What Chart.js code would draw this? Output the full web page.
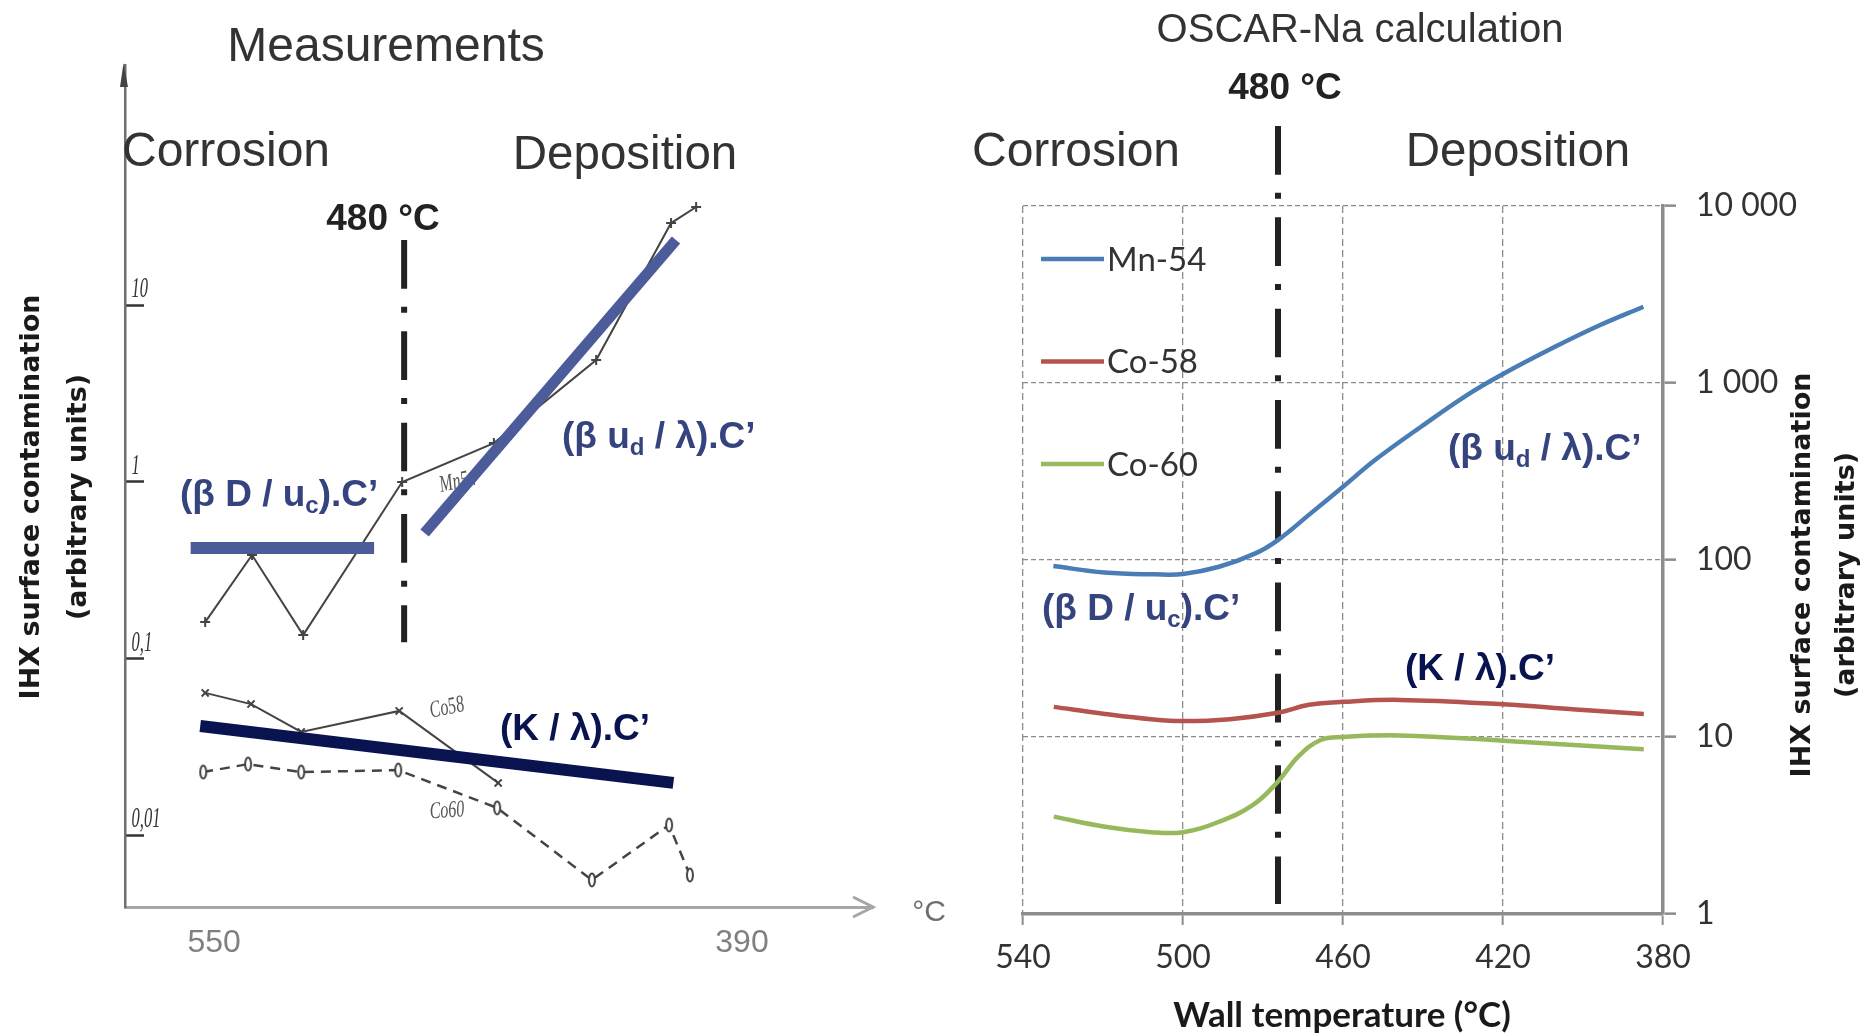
<!DOCTYPE html>
<html><head><meta charset="utf-8">
<script src="https://cdn.jsdelivr.net/npm/chart.js@4"></script>
<style>
html,body{margin:0;padding:0;background:#fff;width:1870px;height:1035px;overflow:hidden}
canvas{position:absolute;top:0}
#left{left:0}#right{left:960px}
</style></head><body>
<canvas id="left" width="960" height="1035"></canvas>
<canvas id="right" width="910" height="1035"></canvas>
<script>
// ---- Left panel: measurements (temperature in °C, contamination in arbitrary units)
const measMnT   = [552.7,538.5,523,493,465.2,434.2,411.5,403.9];
const measMnV   = [0.161,0.386,0.136,1.0,1.66,4.90,29.2,36.0];
const measCo58T = [552.7,538.8,523.6,493.9,463.9];
const measCo58V = [0.064,0.0553,0.0385,0.0506,0.0198];
const measCo60T = [553.3,539.7,523.6,494.2,464.2,435.5,412.1,405.8];
const measCo60V = [0.0228,0.0253,0.0228,0.0234,0.0143,0.00559,0.01144,0.00596];
const fitCorrT  = [557.1,501.5];
const fitCorrV  = [0.423,0.423];
const fitDepT   = [486.2,410];
const fitDepV   = [0.514,23.4];
const fitDecayT = [554.2,410.8];
const fitDecayV = [0.0416,0.0198];
const measLimitT = [492.4,492.4];
const measLimitV = [23.4,0.124];
const measXTicks = [550,390];
const measYTicks = [0.01,0.1,1,10];
const measYLabels = ['0,01','0,1','1','10'];
// ---- Right panel: OSCAR-Na calculation
const calcMnT = [532.4,519.7,507.1,500,491,481.9,476.2,468,460,452,440.5,429,420,407,395.7,384.9];
const calcMnV = [92.5,85,83,83.4,91.6,109,130,184,259,367,566,855,1125,1603,2128,2698];
const calc58T = [532.3,519.5,508,500,488.3,476.3,468.5,460,445.8,420,401.8,384.8];
const calc58V = [14.8,13.5,12.6,12.3,12.6,13.7,15.2,15.8,16.2,15.3,14.3,13.5];
const calc60T = [532.3,519.5,508,500,491,482.5,476.3,471.2,465.6,460,445.8,420,384.8];
const calc60V = [3.55,3.11,2.90,2.90,3.32,4.13,5.59,7.74,9.62,10.0,10.2,9.53,8.52];
const calcLimitT = [476.25,476.25];
const calcLimitV = [28300,1.14];
const calcXTicks = [540,500,460,420,380];
const calcYTicks = [1,10,100,1000,10000];
const calcYLabels = ['1','10','100','1 000','10 000'];

const zip = (xs, ys) => xs.map((x, i) => ({x, y: ys[i]}));
const BLUE = '#4c5c9a', TEXTBLUE = '#35447f', NAVY = '#08134f', DARK = '#222222';
const DASHDOT = [48.7, 18, 6, 18.6];
const SANS = '"Liberation Sans"';
Chart.defaults.font.family = SANS;

function drawItem(ctx, it, ox) {
  ctx.save();
  ctx.translate(it.x - ox, it.y);
  if (it.rot) ctx.rotate(it.rot * Math.PI / 180);
  if (it.sy) ctx.scale(1, it.sy);
  ctx.fillStyle = it.color;
  ctx.textBaseline = 'middle';
  if (it.runs) {
    let cx = 0;
    ctx.textAlign = 'left';
    const size = parseFloat(it.font.match(/(\d+(\.\d+)?)px/)[1]);
    it.runs.forEach(r => {
      if (r.sub) {
        ctx.font = it.font.replace(/\d+(\.\d+)?px/, (size * 0.65) + 'px');
        ctx.fillText(r.t, cx, size * 0.3);
      } else {
        ctx.font = it.font;
        ctx.fillText(r.t, cx, 0);
      }
      cx += ctx.measureText(r.t).width;
    });
  } else {
    ctx.font = it.font;
    ctx.textAlign = it.align || 'center';
    (Array.isArray(it.text) ? it.text : [it.text]).forEach((t, i) => ctx.fillText(t, 0, i * (it.lh || 0)));
  }
  ctx.restore();
}
function textPlugin(items, ox) {
  return {
    id: 'pageText',
    beforeDatasetsDraw(chart) { items.filter(i => i.under).forEach(i => drawItem(chart.ctx, i, ox)); },
    afterDraw(chart) { items.filter(i => !i.under).forEach(i => drawItem(chart.ctx, i, ox)); }
  };
}
const fixedW = w => s => { s.width = w; };
const fixedH = h => s => { s.height = h; };

// tall narrow "o" marker of the hand-drawn Co60 curve
const ovalMark = document.createElement('canvas');
ovalMark.width = 10; ovalMark.height = 16;
(() => {
  const c = ovalMark.getContext('2d');
  c.fillStyle = '#ffffff'; c.strokeStyle = '#444444'; c.lineWidth = 2;
  c.beginPath(); c.ellipse(5, 8, 3, 6.5, 0, 0, Math.PI * 2); c.fill(); c.stroke();
})();

// ---------- LEFT CHART ----------
const handFont = 'italic 16px "Liberation Sans Narrow"';
const leftText = [
  {text:'Measurements', x:386, y:47.5, font:'48px '+SANS, color:'#333333'},
  {text:'Corrosion', x:226, y:153, font:'48px '+SANS, color:'#333333'},
  {text:'Deposition', x:625, y:156, font:'47.5px '+SANS, color:'#333333'},
  {text:'480 °C', x:383, y:220, font:'bold 37px '+SANS, color:DARK},
  {runs:[{t:'(β D / u'},{t:'c',sub:true},{t:').C’'}], x:180, y:495.5, font:'bold 37px '+SANS, color:TEXTBLUE},
  {runs:[{t:'(β u'},{t:'d',sub:true},{t:' / λ).C’'}], x:562, y:437.5, font:'bold 37px '+SANS, color:TEXTBLUE},
  {runs:[{t:'(K / λ).C’'}], x:500, y:729.5, font:'bold 37px '+SANS, color:NAVY},
  {text:'°C', x:929, y:913, font:'30px '+SANS, color:'#6e6e6e'},
  {text:['IHX surface contamination','(arbitrary units)'], x:32, y:497, rot:-90, lh:47, font:'bold 27px "DejaVu Sans"', color:'#1a1a1a'},
  {text:'Mn54', x:458, y:482, rot:-12, sy:1.5, under:true, font:handFont, color:'#555555'},
  {text:'Co58', x:447, y:708, rot:-12, sy:1.5, under:true, font:handFont, color:'#555555'},
  {text:'Co60', x:447, y:811, rot:-4, sy:1.5, under:true, font:handFont, color:'#555555'}
];
const arrowPlugin = {
  id: 'axisArrows',
  afterDraw(chart) {
    const {ctx} = chart, a = chart.chartArea;
    ctx.save();
    ctx.strokeStyle = '#a6a6a6'; ctx.lineWidth = 3;
    ctx.beginPath();
    ctx.moveTo(a.right - 20, a.bottom - 10); ctx.lineTo(a.right, a.bottom); ctx.lineTo(a.right - 20, a.bottom + 10);
    ctx.stroke();
    ctx.fillStyle = '#444444';
    ctx.beginPath();
    ctx.moveTo(a.left - 1.5, a.top - 2); ctx.lineTo(a.left + 3, a.top + 22); ctx.lineTo(a.left - 5, a.top + 22);
    ctx.closePath(); ctx.fill();
    ctx.restore();
  }
};
// hand-written y tick labels of the left axis: tall, narrow, sitting above each tick
const handTicks = {
  id: 'handTicks',
  afterDraw(chart) {
    const {ctx, scales:{y}} = chart;
    measYTicks.forEach((v, i) => {
      ctx.save();
      ctx.translate(y.right + 6.5, y.getPixelForValue(v) - 8);
      ctx.scale(0.55, 1);
      ctx.font = 'italic 30px "Liberation Sans Narrow"';
      ctx.fillStyle = '#333333';
      ctx.textAlign = 'left'; ctx.textBaseline = 'alphabetic';
      ctx.fillText(measYLabels[i], 0, 0);
      ctx.restore();
    });
  }
};
new Chart(document.getElementById('left'), {
  type: 'line',
  data: { datasets: [
    {label:'(β D / uc).C’ fit', data:zip(fitCorrT,fitCorrV), borderColor:BLUE, borderWidth:12, pointRadius:0, order:1},
    {label:'(β ud / λ).C’ fit', data:zip(fitDepT,fitDepV), borderColor:BLUE, borderWidth:11, pointRadius:0, order:1},
    {label:'(K / λ).C’ fit', data:zip(fitDecayT,fitDecayV), borderColor:NAVY, borderWidth:12, pointRadius:0, order:1},
    {label:'480 °C', data:zip(measLimitT,measLimitV), borderColor:DARK, borderWidth:6, borderDash:DASHDOT, pointRadius:0, order:2},
    {label:'Mn54', data:zip(measMnT,measMnV), borderColor:'#444444', borderWidth:2, pointStyle:'cross', pointRadius:5, pointBorderColor:'#444444', pointBorderWidth:2, order:3},
    {label:'Co58', data:zip(measCo58T,measCo58V), borderColor:'#444444', borderWidth:2, pointStyle:'crossRot', pointRadius:5, pointBorderColor:'#444444', pointBorderWidth:2, order:3},
    {label:'Co60', data:zip(measCo60T,measCo60V), borderColor:'#444444', borderWidth:2.5, borderDash:[10,7], pointStyle:ovalMark, order:3}
  ]},
  options: {
    responsive:false, animation:false, devicePixelRatio:1,
    layout:{autoPadding:false, padding:{left:125,right:87,top:65,bottom:0}},
    plugins:{legend:{display:false},tooltip:{enabled:false}},
    scales:{
      x:{type:'linear', reverse:true, min:350.3, max:577, afterFit:fixedH(128),
         afterBuildTicks:s=>{s.ticks=measXTicks.map(v=>({value:v}));},
         grid:{display:true,drawOnChartArea:false,drawTicks:false},
         border:{color:'#a6a6a6',width:3},
         ticks:{padding:17,color:'#808080',font:{size:32},maxRotation:0,autoSkip:false,callback:v=>String(v)}},
      y:{type:'logarithmic', min:0.00393, max:229, afterFit:fixedW(0),
         afterBuildTicks:s=>{s.ticks=measYTicks.map(v=>({value:v}));},
         grid:{display:true,drawOnChartArea:false,drawTicks:true,tickLength:-19,tickColor:'#333333',tickWidth:2.5},
         border:{color:'#6e6e6e',width:2.5},
         ticks:{display:false}}
    }
  },
  plugins:[textPlugin(leftText,0),arrowPlugin,handTicks]
});

// ---------- RIGHT CHART ----------
const OX = 960;
const rightText = [
  {text:'OSCAR-Na calculation', x:1360, y:30.5, font:'40px '+SANS, color:'#333333'},
  {text:'480 °C', x:1285, y:89, font:'bold 37px '+SANS, color:DARK},
  {text:'Corrosion', x:1076, y:153, font:'48px '+SANS, color:'#333333'},
  {text:'Deposition', x:1518, y:153, font:'47.5px '+SANS, color:'#333333'},
  {runs:[{t:'(β u'},{t:'d',sub:true},{t:' / λ).C’'}], x:1448, y:449.5, font:'bold 37px '+SANS, color:TEXTBLUE},
  {runs:[{t:'(β D / u'},{t:'c',sub:true},{t:').C’'}], x:1042, y:609.5, font:'bold 37px '+SANS, color:TEXTBLUE},
  {runs:[{t:'(K / λ).C’'}], x:1405, y:669.5, font:'bold 37px '+SANS, color:NAVY},
  {text:'Wall temperature (°C)', x:1342, y:1016, font:'bold 35px Lato', color:'#1a1a1a'},
  {text:['IHX surface contamination','(arbitrary units)'], x:1803, y:575, rot:-90, lh:44, font:'bold 27px "DejaVu Sans"', color:'#1a1a1a'}
];
const legendPlugin = {
  id: 'lineLegend',
  afterDraw(chart) {
    const {ctx} = chart, a = chart.chartArea;
    ctx.save();
    chart.data.datasets.filter(d => d.inLegend).forEach((d, i) => {
      const y = a.top + 53 + i * 102.5;
      ctx.strokeStyle = d.borderColor; ctx.lineWidth = 4.5;
      ctx.beginPath(); ctx.moveTo(a.left + 18, y); ctx.lineTo(a.left + 81, y); ctx.stroke();
      ctx.fillStyle = '#333333'; ctx.font = '33px Lato';
      ctx.textAlign = 'left'; ctx.textBaseline = 'middle';
      ctx.fillText(d.label, a.left + 84, y + 1);
    });
    ctx.restore();
  }
};
const curve = {borderWidth:4.5, pointRadius:0, tension:0.4, order:1};
new Chart(document.getElementById('right'), {
  type: 'line',
  data: { datasets: [
    {label:'480 °C', data:zip(calcLimitT,calcLimitV), borderColor:DARK, borderWidth:6, borderDash:DASHDOT, pointRadius:0, clip:false, order:2},
    {label:'Mn-54', inLegend:true, data:zip(calcMnT,calcMnV), borderColor:'#4a7db5', ...curve},
    {label:'Co-58', inLegend:true, data:zip(calc58T,calc58V), borderColor:'#b5544f', ...curve},
    {label:'Co-60', inLegend:true, data:zip(calc60T,calc60V), borderColor:'#98b85c', ...curve}
  ]},
  options: {
    responsive:false, animation:false, devicePixelRatio:1,
    layout:{autoPadding:false, padding:{left:63,right:0,top:206,bottom:0}},
    plugins:{legend:{display:false},tooltip:{enabled:false}},
    scales:{
      x:{type:'linear', reverse:true, min:380, max:540, afterFit:fixedH(121),
         afterBuildTicks:s=>{s.ticks=calcXTicks.map(v=>({value:v}));},
         grid:{color:'#8c8c8c',lineWidth:1.3,tickColor:'#8c8c8c',tickWidth:2,tickLength:11,tickBorderDash:[]},
         border:{color:'#8c8c8c',width:3.5,dash:[7,4]},
         ticks:{padding:13,color:'#333333',font:{family:'Lato',size:32},maxRotation:0,autoSkip:false,callback:v=>String(v)}},
      y:{type:'logarithmic', position:'right', min:1, max:10000, afterFit:fixedW(207),
         afterBuildTicks:s=>{s.ticks=calcYTicks.map(v=>({value:v}));},
         grid:{color:'#8c8c8c',lineWidth:1.3,tickColor:'#8c8c8c',tickWidth:2.5,tickLength:13,tickBorderDash:[]},
         border:{color:'#8c8c8c',width:3.5,dash:[5,3]},
         ticks:{padding:20,color:'#333333',font:{family:'Lato',size:32},autoSkip:false,
                callback:v=>calcYLabels[calcYTicks.indexOf(v)]}}
    }
  },
  plugins:[textPlugin(rightText,OX),legendPlugin]
});
</script>
</body></html>
